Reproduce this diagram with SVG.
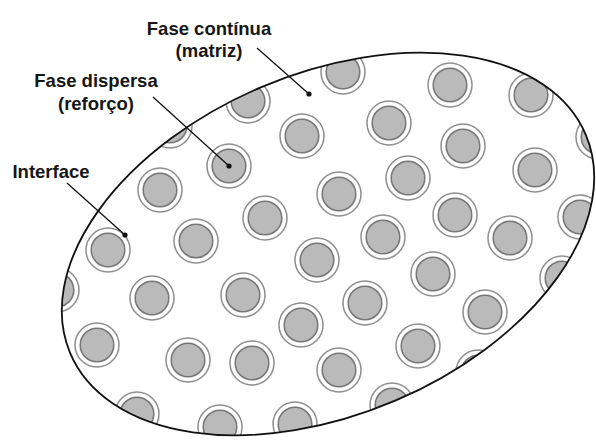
<svg xmlns="http://www.w3.org/2000/svg" xmlns:xlink="http://www.w3.org/1999/xlink" width="596" height="448" viewBox="0 0 596 448">
<style>
.lbl{font-family:"Liberation Sans",Arial,sans-serif;font-weight:bold;font-size:18.5px;fill:#161616;text-anchor:middle}
.lead{stroke:#111;stroke-width:1.3;fill:none}
.dot{fill:#111}
.ring{fill:#fff;stroke:#8f8f8f;stroke-width:1.5}
.core{fill:#bababa;stroke:#767676;stroke-width:1.5}
</style>
<defs>
<clipPath id="clipE"><ellipse cx="328" cy="244" rx="280" ry="170.5" transform="rotate(-23 328 244)"/></clipPath>
<g id="p"><circle class="ring" r="22"/><circle class="core" r="16.8"/></g>
</defs>
<rect width="596" height="448" fill="#fff"/>
<g id="matrix">
<ellipse cx="328" cy="244" rx="280" ry="170.5" transform="rotate(-23 328 244)" fill="#fff"/>
</g>
<g id="particles" clip-path="url(#clipE)">
<use xlink:href="#p" x="343" y="72"/>
<use xlink:href="#p" x="450" y="85"/>
<use xlink:href="#p" x="531" y="95"/>
<use xlink:href="#p" x="248" y="101"/>
<use xlink:href="#p" x="302" y="136"/>
<use xlink:href="#p" x="389" y="123"/>
<use xlink:href="#p" x="463" y="146"/>
<use xlink:href="#p" x="598" y="137"/>
<use xlink:href="#p" x="170" y="126"/>
<use xlink:href="#p" x="229" y="166"/>
<use xlink:href="#p" x="339" y="194"/>
<use xlink:href="#p" x="408" y="178"/>
<use xlink:href="#p" x="535" y="170"/>
<use xlink:href="#p" x="160" y="190"/>
<use xlink:href="#p" x="265" y="218"/>
<use xlink:href="#p" x="455" y="215"/>
<use xlink:href="#p" x="580" y="217"/>
<use xlink:href="#p" x="108" y="250"/>
<use xlink:href="#p" x="196" y="241"/>
<use xlink:href="#p" x="383" y="237"/>
<use xlink:href="#p" x="510" y="238"/>
<use xlink:href="#p" x="317" y="260"/>
<use xlink:href="#p" x="57" y="290"/>
<use xlink:href="#p" x="152" y="298"/>
<use xlink:href="#p" x="243" y="295"/>
<use xlink:href="#p" x="433" y="274"/>
<use xlink:href="#p" x="562" y="278"/>
<use xlink:href="#p" x="301" y="325"/>
<use xlink:href="#p" x="365" y="303"/>
<use xlink:href="#p" x="485" y="312"/>
<use xlink:href="#p" x="97" y="345"/>
<use xlink:href="#p" x="188" y="360"/>
<use xlink:href="#p" x="252" y="363"/>
<use xlink:href="#p" x="339" y="370"/>
<use xlink:href="#p" x="418" y="346"/>
<use xlink:href="#p" x="478" y="372"/>
<use xlink:href="#p" x="137" y="414"/>
<use xlink:href="#p" x="220" y="427"/>
<use xlink:href="#p" x="295" y="424"/>
<use xlink:href="#p" x="392" y="405"/>
</g>
<g id="outline">
<ellipse cx="328" cy="244" rx="280" ry="170.5" transform="rotate(-23 328 244)" fill="none" stroke="#111" stroke-width="1.8"/>
</g>
<g id="connectors">
<line class="lead" x1="257" y1="48" x2="309" y2="94"/>
<circle class="dot" cx="309" cy="94" r="2.6"/>
<line class="lead" x1="153" y1="97" x2="229" y2="166"/>
<circle class="dot" cx="229" cy="166" r="2.6"/>
<line class="lead" x1="67" y1="183" x2="125" y2="235"/>
<circle class="dot" cx="125" cy="235" r="2.6"/>
</g>
<g id="label-matriz">
<text class="lbl" x="209" y="34.5">Fase contínua</text>
<text class="lbl" x="209" y="57">(matriz)</text>
</g>
<g id="label-reforco">
<text class="lbl" x="96" y="87">Fase dispersa</text>
<text class="lbl" x="96" y="110">(reforço)</text>
</g>
<g id="label-interface">
<text class="lbl" x="51" y="178">Interface</text>
</g>
</svg>
